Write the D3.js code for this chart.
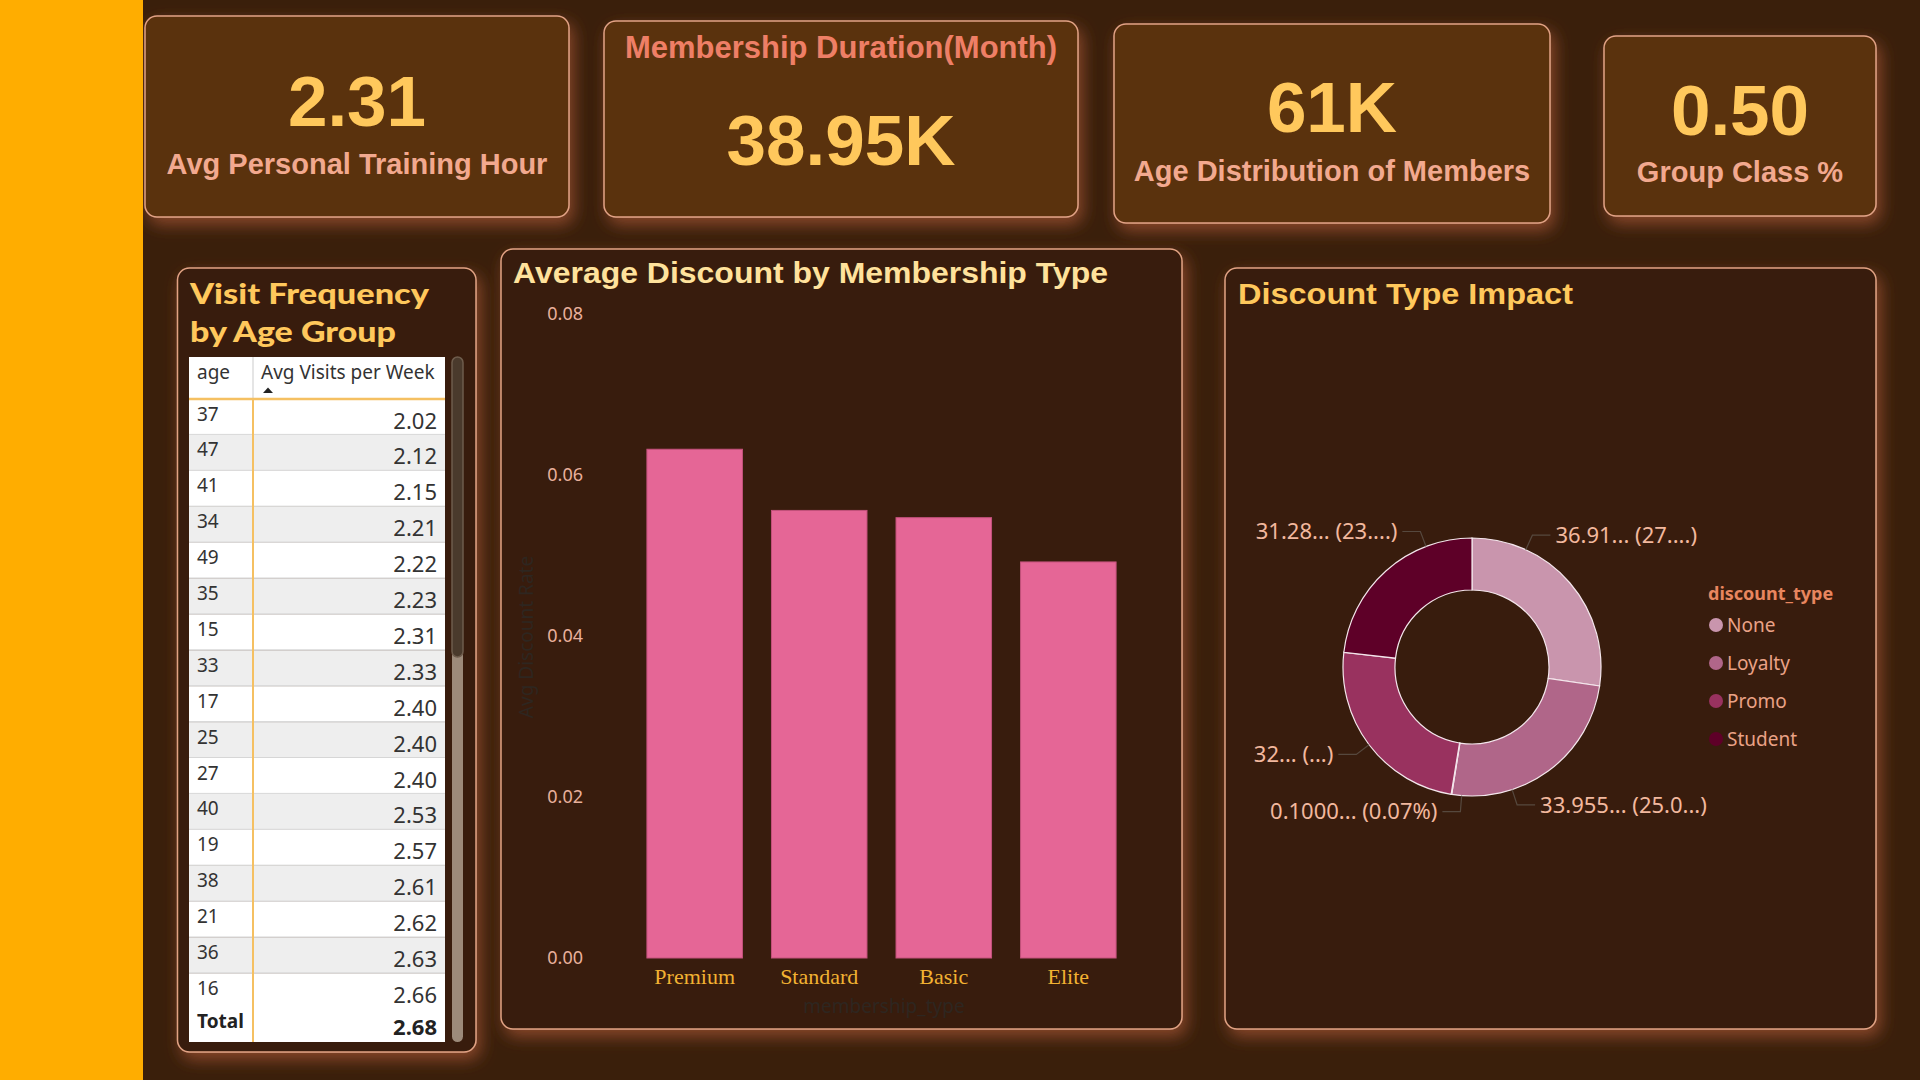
<!DOCTYPE html>
<html>
<head>
<meta charset="utf-8">
<script src="https://cdn.jsdelivr.net/npm/d3@7"></script>
<style>
  html, body { margin: 0; padding: 0; background: #3a1f0b; overflow: hidden; }
  svg { display: block; }
</style>
</head>
<body>
<script>
// ---------------- data ----------------
var kpiValues = ["2.31", "38.95K", "61K", "0.50"];
var kpiLabels = ["Avg Personal Training Hour", "Membership Duration(Month)", "Age Distribution of Members", "Group Class %"];

var ages = [37, 47, 41, 34, 49, 35, 15, 33, 17, 25, 27, 40, 19, 38, 21, 36, 16];
var avgVisits = [2.02, 2.12, 2.15, 2.21, 2.22, 2.23, 2.31, 2.33, 2.40, 2.40, 2.40, 2.53, 2.57, 2.61, 2.62, 2.63, 2.66];
var visitsTotal = 2.68;

var membershipTypes = ["Premium", "Standard", "Basic", "Elite"];
var avgDiscount = [0.0632, 0.0556, 0.0547, 0.0492];
var discountTicks = [0, 0.02, 0.04, 0.06, 0.08];

var discountTypes = ["None", "Loyalty", "(Blank)", "Promo", "Student"];
var discountValues = [36.91, 33.955, 0.1, 32.7, 31.28];
var discountLabels = ["36.91... (27....)", "33.955... (25.0...)", "0.1000... (0.07%)", "32... (...)", "31.28... (23....)"];
var discountColors = ["#c995ad", "#b06689", "#e8d0dc", "#99325f", "#5e0028"];
var legendTypes = ["None", "Loyalty", "Promo", "Student"];

// ---------------- setup ----------------
var width = 1920, height = 1080;
var svg = d3.select("body").append("svg")
	.attr("width", width)
	.attr("height", height);

var defs = svg.append("defs");
var glow = defs.append("filter").attr("id", "glow")
	.attr("x", "-20%").attr("y", "-20%").attr("width", "140%").attr("height", "140%");
glow.append("feDropShadow")
	.attr("dx", 4).attr("dy", 7)
	.attr("stdDeviation", 8)
	.attr("flood-color", "#8c4a2b")
	.attr("flood-opacity", 0.95);

svg.append("rect").attr("width", width).attr("height", height).attr("fill", "#3a1f0b");

var SANS = "'Liberation Sans', Arial, sans-serif";
var UI = "'Noto Sans', 'Open Sans', sans-serif";

// ---------------- KPI cards ----------------
var cards = [
	{x: 145, y: 16, w: 424, h: 201, valueY: 126, labelY: 173.5, labelTop: false},
	{x: 604, y: 21, w: 474, h: 196, valueY: 165, labelY: 57.5, labelTop: true},
	{x: 1114, y: 24, w: 436, h: 199, valueY: 132, labelY: 180.5, labelTop: false},
	{x: 1604, y: 36, w: 272, h: 180, valueY: 135, labelY: 182, labelTop: false}
];

var card = svg.selectAll(".card")
	.data(cards)
	.enter().append("g")
	.attr("class", "card");

card.append("rect")
	.attr("x", function(d) { return d.x; })
	.attr("y", function(d) { return d.y; })
	.attr("width", function(d) { return d.w; })
	.attr("height", function(d) { return d.h; })
	.attr("rx", 12)
	.attr("fill", "#5a3010")
	.attr("stroke", "#e2a284")
	.attr("stroke-width", 1.5)
	.attr("filter", "url(#glow)");

card.append("text")
	.attr("x", function(d) { return d.x + d.w / 2; })
	.attr("y", function(d) { return d.valueY; })
	.attr("text-anchor", "middle")
	.style("font-family", SANS)
	.style("font-weight", "bold")
	.style("font-size", "71px")
	.style("fill", "#ffc85c")
	.text(function(d, i) { return kpiValues[i]; });

card.append("text")
	.attr("x", function(d) { return d.x + d.w / 2; })
	.attr("y", function(d) { return d.labelY; })
	.attr("text-anchor", "middle")
	.style("font-family", SANS)
	.style("font-weight", "bold")
	.style("font-size", function(d) { return d.labelTop ? "31px" : "29px"; })
	.style("fill", function(d) { return d.labelTop ? "#ee7f66" : "#f2a98f"; })
	.text(function(d, i) { return kpiLabels[i]; });

// ---------------- chart panels ----------------
var panels = [
	{x: 177.5, y: 268, w: 298.5, h: 784},
	{x: 501, y: 249, w: 681, h: 780},
	{x: 1225, y: 268, w: 651, h: 761}
];
svg.selectAll(".panel")
	.data(panels)
	.enter().append("rect")
	.attr("class", "panel")
	.attr("x", function(d) { return d.x; })
	.attr("y", function(d) { return d.y; })
	.attr("width", function(d) { return d.w; })
	.attr("height", function(d) { return d.h; })
	.attr("rx", 12)
	.attr("fill", "#391e0a")
	.attr("stroke", "#e2a284")
	.attr("stroke-width", 1.5)
	.attr("filter", "url(#glow)");

// ---------------- table: Visit Frequency by Age Group ----------------
var tbl = svg.append("g");
tbl.append("text").attr("x", 190).attr("y", 304)
	.attr("textLength", 239).attr("lengthAdjust", "spacingAndGlyphs")
	.style("font-family", "Lato, " + SANS).style("font-weight", 900).style("font-size", "29px")
	.style("fill", "#ffc85c").text("Visit Frequency");
tbl.append("text").attr("x", 190).attr("y", 342)
	.attr("textLength", 206).attr("lengthAdjust", "spacingAndGlyphs")
	.style("font-family", "Lato, " + SANS).style("font-weight", 900).style("font-size", "29px")
	.style("fill", "#ffc85c").text("by Age Group");

var tX0 = 189, tX1 = 445, tDiv = 253, headTop = 357, headBot = 399, rowH = 35.9, totalTop = 1007, tBot = 1042;

defs.append("clipPath").attr("id", "rowsClip")
	.append("rect").attr("x", tX0).attr("y", headBot).attr("width", tX1 - tX0).attr("height", totalTop - headBot);

// header
tbl.append("rect").attr("x", tX0).attr("y", headTop).attr("width", tX1 - tX0).attr("height", headBot - headTop).attr("fill", "#ffffff");
tbl.append("text").attr("x", 197).attr("y", 379)
	.style("font-family", UI).style("font-size", "19px").style("fill", "#333")
	.text("age");
tbl.append("text").attr("x", 261).attr("y", 379)
	.style("font-family", UI).style("font-size", "19px").style("fill", "#333")
	.text("Avg Visits per Week");
tbl.append("path").attr("d", "M263,393 L268,387.5 L273,393 Z").attr("fill", "#222");

// rows
var rowsG = tbl.append("g").attr("clip-path", "url(#rowsClip)");
var rowY = d3.scaleLinear().domain([0, 1]).range([headBot, headBot + rowH]);
var rows = rowsG.selectAll(".row")
	.data(ages)
	.enter().append("g")
	.attr("class", "row")
	.attr("transform", function(d, i) { return "translate(0," + rowY(i) + ")"; });

rows.append("rect")
	.attr("x", tX0).attr("width", tX1 - tX0).attr("height", rowH)
	.attr("fill", function(d, i) { return i % 2 ? "#eeeeee" : "#ffffff"; });
rows.append("line")
	.attr("x1", tX0).attr("x2", tX1).attr("y1", rowH - 0.5).attr("y2", rowH - 0.5)
	.attr("stroke", "#d6d6d6");
rows.append("text")
	.attr("x", 197).attr("y", 21.5)
	.style("font-family", UI).style("font-size", "19px").style("fill", "#333")
	.text(function(d) { return d; });
rows.append("text")
	.attr("x", 437).attr("y", 29.5)
	.attr("text-anchor", "end")
	.style("font-family", UI).style("font-size", "22px").style("fill", "#333")
	.text(function(d, i) { return d3.format(".2f")(avgVisits[i]); });

// total
tbl.append("rect").attr("x", tX0).attr("y", totalTop).attr("width", tX1 - tX0).attr("height", tBot - totalTop).attr("fill", "#ffffff");
tbl.append("text").attr("x", 197).attr("y", 1028)
	.style("font-family", UI).style("font-weight", "bold").style("font-size", "19px").style("fill", "#222")
	.text("Total");
tbl.append("text").attr("x", 437).attr("y", 1035).attr("text-anchor", "end")
	.style("font-family", UI).style("font-weight", "bold").style("font-size", "22px").style("fill", "#222")
	.text(d3.format(".2f")(visitsTotal));

// grid lines of table
tbl.append("line").attr("x1", tDiv).attr("x2", tDiv).attr("y1", headTop).attr("y2", headBot)
	.attr("stroke", "#dddddd").attr("stroke-width", 1.5);
tbl.append("line").attr("x1", tDiv).attr("x2", tDiv).attr("y1", headBot).attr("y2", tBot)
	.attr("stroke", "#f5c062").attr("stroke-width", 2);
tbl.append("line").attr("x1", tX0).attr("x2", tX1).attr("y1", headBot).attr("y2", headBot)
	.attr("stroke", "#f5c062").attr("stroke-width", 2.5);

// scrollbar
tbl.append("rect").attr("x", 452).attr("y", headTop).attr("width", 11).attr("height", tBot - headTop)
	.attr("rx", 5.5).attr("fill", "#9c8a7a");
tbl.append("rect").attr("x", 452).attr("y", headTop).attr("width", 11).attr("height", 300)
	.attr("rx", 5.5).attr("fill", "#4a3a2c").attr("stroke", "#6e5c4c").attr("stroke-width", 1.5);

// ---------------- bar chart: Average Discount by Membership Type ----------------
var bar = svg.append("g");
bar.append("text").attr("x", 513).attr("y", 283)
	.attr("textLength", 595).attr("lengthAdjust", "spacingAndGlyphs")
	.style("font-family", SANS).style("font-weight", "bold").style("font-size", "29px")
	.style("fill", "#ffe29c").text("Average Discount by Membership Type");

var x = d3.scaleBand().domain(membershipTypes).range([622, 1141]).paddingInner(0.233).paddingOuter(0.2);
var y = d3.scaleLinear().domain([0, 0.08]).range([958, 314]);

bar.selectAll(".bar")
	.data(avgDiscount)
	.enter().append("rect")
	.attr("class", "bar")
	.attr("x", function(d, i) { return x(membershipTypes[i]); })
	.attr("y", function(d) { return y(d); })
	.attr("width", x.bandwidth())
	.attr("height", function(d) { return y(0) - y(d); })
	.attr("fill", "#e56696")
	.attr("stroke", "#c4527c")
	.attr("stroke-width", 1);

var yAxis = bar.append("g")
	.attr("transform", "translate(583,0)")
	.call(d3.axisLeft(y).tickValues(discountTicks).tickFormat(d3.format(".2f")).tickSize(0).tickPadding(0));
yAxis.select(".domain").remove();
yAxis.selectAll("text")
	.style("font-family", UI).style("font-size", "18px").style("fill", "#e8b09c");

var xAxis = bar.append("g")
	.attr("transform", "translate(0,958)")
	.call(d3.axisBottom(x).tickSize(0).tickPadding(10));
xAxis.select(".domain").remove();
xAxis.selectAll("text")
	.style("font-family", "'Liberation Serif', 'Times New Roman', serif").style("font-size", "22px").style("fill", "#f2b232");

bar.append("text")
	.attr("transform", "translate(533,637) rotate(-90)")
	.attr("text-anchor", "middle")
	.style("font-family", UI).style("font-size", "19px").style("fill", "#2e2620")
	.text("Avg Discount Rate");
bar.append("text")
	.attr("x", 884).attr("y", 1013)
	.attr("text-anchor", "middle")
	.style("font-family", UI).style("font-size", "19px").style("fill", "#2e2620")
	.text("membership_type");

// ---------------- donut: Discount Type Impact ----------------
var don = svg.append("g");
don.append("text").attr("x", 1238).attr("y", 304)
	.attr("textLength", 335).attr("lengthAdjust", "spacingAndGlyphs")
	.style("font-family", SANS).style("font-weight", "bold").style("font-size", "29px")
	.style("fill", "#ffc85c").text("Discount Type Impact");

var cx = 1472, cy = 667, rOut = 129, rIn = 77;
var pie = d3.pie().sort(null).value(function(d) { return d; });
var arcs = pie(discountValues);
var arc = d3.arc().innerRadius(rIn).outerRadius(rOut);
var dg = don.append("g").attr("transform", "translate(" + cx + "," + cy + ")");

dg.selectAll(".slice")
	.data(arcs)
	.enter().append("path")
	.attr("class", "slice")
	.attr("d", arc)
	.attr("fill", function(d, i) { return discountColors[i]; })
	.attr("stroke", "#f4e6ec")
	.attr("stroke-width", 1.2);

// leader lines and labels: labels near the vertical axis get pulled toward it
arcs.forEach(function(d, i) {
	var a = (d.startAngle + d.endAngle) / 2;
	var vert = Math.round(a / Math.PI) * Math.PI;
	if (Math.abs(a - vert) < 50 * Math.PI / 180) a = vert + (a - vert) * 0.5;
	var s = Math.sin(a), c = -Math.cos(a);
	var side = s >= 0 ? 1 : -1;
	var p0 = [rOut * s, rOut * c];
	var p1 = [(rOut + 16) * s, (rOut + 16) * c];
	var p2 = [p1[0] + side * 18, p1[1]];
	dg.append("polyline")
		.attr("points", [p0, p1, p2].map(function(p) { return p.join(","); }).join(" "))
		.attr("fill", "none")
		.attr("stroke", "#56483e")
		.attr("stroke-width", 1.2);
	dg.append("text")
		.attr("x", p2[0] + side * 5)
		.attr("y", p2[1])
		.attr("dy", "0.35em")
		.attr("text-anchor", side > 0 ? "start" : "end")
		.style("font-family", UI).style("font-size", "22px").style("fill", "#f2b89e")
		.text(discountLabels[i]);
});

// legend
var leg = don.append("g").attr("transform", "translate(1708,0)");
leg.append("text").attr("x", 0).attr("y", 600)
	.style("font-family", UI).style("font-weight", "bold").style("font-size", "18px").style("fill", "#e8865f")
	.text("discount_type");
var legItem = leg.selectAll(".leg")
	.data(legendTypes)
	.enter().append("g")
	.attr("class", "leg")
	.attr("transform", function(d, i) { return "translate(0," + (625 + i * 38) + ")"; });
legItem.append("circle")
	.attr("cx", 8).attr("cy", 0).attr("r", 7)
	.attr("fill", function(d) { return discountColors[discountTypes.indexOf(d)]; });
legItem.append("text")
	.attr("x", 19).attr("y", 0).attr("dy", "0.35em")
	.style("font-family", UI).style("font-size", "19px").style("fill", "#eaa286")
	.text(function(d) { return d; });

// ---------------- orange side bar ----------------
svg.append("rect").attr("x", 0).attr("y", 0).attr("width", 143).attr("height", height).attr("fill", "#ffad00");
</script>
</body>
</html>
